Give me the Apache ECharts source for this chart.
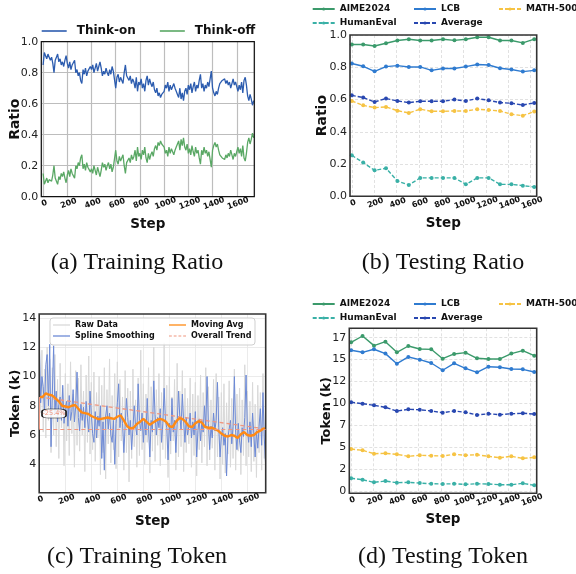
<!DOCTYPE html>
<html><head><meta charset="utf-8">
<script src="https://cdn.jsdelivr.net/npm/echarts@6/dist/echarts.min.js"></script>
<style>html,body{margin:0;padding:0;background:#fff}#c{width:576px;height:574px}</style>
</head><body><div id="c"></div><script>
// ---------- (a) Training Ratio: values every 10 steps ----------
const thinkOn = [
0.85,0.93,0.91,0.89,0.92,0.90,0.88,0.90,0.86,0.80,
0.88,0.90,0.92,0.87,0.89,0.85,0.87,0.84,0.88,0.91,
0.86,0.83,0.87,0.82,0.85,0.84,0.88,0.80,0.82,0.78,
0.80,0.75,0.73,0.82,0.79,0.83,0.78,0.81,0.80,0.84,
0.82,0.85,0.80,0.83,0.86,0.81,0.84,0.87,0.83,0.78,
0.81,0.79,0.83,0.80,0.78,0.82,0.79,0.84,0.81,0.80,
0.70,0.77,0.79,0.74,0.77,0.76,0.73,0.80,0.85,0.78,
0.77,0.75,0.78,0.73,0.76,0.74,0.70,0.77,0.68,0.74,
0.72,0.76,0.70,0.73,0.68,0.75,0.78,0.72,0.76,0.73,
0.71,0.74,0.69,0.67,0.70,0.65,0.67,0.64,0.66,0.65,
0.68,0.72,0.70,0.74,0.68,0.72,0.69,0.71,0.73,0.70,
0.68,0.66,0.64,0.70,0.63,0.67,0.62,0.68,0.70,0.66,
0.72,0.69,0.73,0.67,0.71,0.74,0.68,0.72,0.70,0.75,
0.79,0.70,0.73,0.68,0.72,0.70,0.74,0.71,0.76,0.81,
0.70,0.67,0.65,0.68,0.66,0.70,0.73,0.72,0.75,0.74,
0.76,0.73,0.75,0.72,0.74,0.70,0.73,0.76,0.72,0.74,
0.71,0.68,0.72,0.69,0.74,0.67,0.75,0.77,0.72,0.65,
0.62,0.66,0.63,0.59,0.62];
const thinkOff = [
0.15,0.08,0.10,0.12,0.09,0.11,0.12,0.10,0.14,0.20,
0.12,0.10,0.08,0.13,0.11,0.15,0.13,0.16,0.12,0.09,
0.14,0.17,0.13,0.18,0.15,0.16,0.12,0.20,0.18,0.22,
0.20,0.25,0.27,0.18,0.21,0.17,0.22,0.19,0.20,0.16,
0.18,0.15,0.20,0.17,0.14,0.19,0.16,0.13,0.17,0.22,
0.19,0.21,0.17,0.20,0.22,0.18,0.21,0.16,0.19,0.20,
0.30,0.23,0.21,0.26,0.23,0.24,0.27,0.20,0.15,0.22,
0.23,0.25,0.22,0.27,0.24,0.26,0.30,0.23,0.32,0.26,
0.28,0.24,0.30,0.27,0.32,0.25,0.22,0.28,0.24,0.27,
0.29,0.26,0.31,0.33,0.30,0.35,0.33,0.36,0.34,0.35,
0.32,0.28,0.30,0.26,0.32,0.28,0.31,0.29,0.27,0.30,
0.32,0.34,0.36,0.30,0.37,0.33,0.38,0.32,0.30,0.34,
0.28,0.31,0.27,0.33,0.29,0.26,0.32,0.28,0.30,0.25,
0.21,0.30,0.27,0.32,0.28,0.30,0.26,0.29,0.24,0.19,
0.30,0.33,0.35,0.32,0.34,0.30,0.27,0.28,0.25,0.26,
0.24,0.27,0.25,0.28,0.26,0.30,0.27,0.24,0.28,0.26,
0.29,0.32,0.28,0.31,0.26,0.33,0.25,0.23,0.28,0.35,
0.38,0.34,0.37,0.41,0.38];

// ---------- (c) Training Token: values every 10 steps ----------
const rawToken = [
13.6,7.5,11.8,6.2,10.5,5.8,12.0,7.0,11.2,4.8,
10.6,6.0,11.5,5.2,9.8,4.4,10.9,6.5,9.2,3.9,
10.2,5.6,9.5,4.6,11.0,6.1,8.8,3.8,10.4,5.3,
9.9,4.9,10.8,6.0,9.0,3.5,10.1,5.5,11.4,4.7,
9.6,5.0,10.3,4.2,8.9,5.8,10.0,3.3,9.4,4.8,
10.6,3.0,9.1,5.4,11.2,4.1,8.7,5.0,10.2,3.7,
11.0,4.5,9.8,5.6,8.6,3.6,10.4,4.8,9.2,2.8,
9.0,4.4,10.5,5.2,8.4,3.8,9.9,4.6,11.8,5.0,
9.5,4.0,8.8,5.5,10.6,3.4,9.3,4.9,12.0,4.2,
9.1,5.3,10.2,3.9,8.9,5.0,12.3,4.4,9.4,3.1,
10.0,4.7,8.6,5.6,9.8,3.6,10.9,4.5,9.0,5.2,
10.4,3.5,9.2,4.8,8.5,5.4,9.9,3.8,8.8,4.6,
9.6,3.2,8.7,5.0,10.1,4.1,8.9,5.2,10.6,3.9,
9.3,4.3,8.4,5.1,9.8,3.6,10.2,4.5,8.6,3.0,
8.9,4.0,9.5,3.4,8.2,4.7,9.7,3.8,8.5,4.4,
10.5,3.6,8.8,4.9,9.2,3.3,8.4,4.6,10.8,3.9,
9.0,4.5,8.3,3.5,9.6,4.2,8.1,3.1,9.4,4.8,
8.9,3.6,10.2,4.4,6.8];
const splineToken = [
12.4,8.2,10.0,9.3,7.6,10.8,11.5,8.0,12.2,5.2,
8.8,12.1,7.4,9.0,6.9,8.1,8.6,7.0,9.4,6.8,
7.9,8.3,6.6,8.7,7.0,7.6,9.1,6.9,8.0,10.3,
7.2,6.3,8.1,7.0,7.9,6.5,8.3,7.1,6.2,9.0,
7.4,6.1,5.5,7.6,5.8,7.3,6.6,8.0,4.4,6.9,
3.6,7.3,8.0,6.4,7.5,6.0,5.5,7.0,4.0,6.8,
8.2,9.5,6.5,7.5,6.8,4.8,6.6,8.5,7.2,6.0,
7.0,5.0,6.5,8.0,6.6,6.0,9.5,7.0,6.3,7.5,
5.5,7.1,6.0,8.5,6.4,4.5,7.0,6.2,9.7,7.4,
6.0,7.2,6.5,7.8,5.5,6.8,9.2,7.0,6.5,4.3,
6.8,5.6,8.5,6.2,7.0,4.8,6.7,9.0,7.3,6.4,
8.8,6.9,5.5,7.2,6.0,6.6,7.5,5.8,6.9,6.0,
7.6,4.5,6.3,7.1,5.6,7.0,6.2,8.0,6.5,10.0,
6.8,5.0,6.6,5.8,7.5,6.3,7.0,9.6,6.5,4.5,
5.9,6.5,5.3,6.1,3.2,5.8,6.4,7.0,5.4,6.6,
10.0,6.2,5.0,6.8,5.6,4.8,6.5,5.9,7.2,10.1,
6.4,5.5,6.9,5.2,7.5,6.0,4.5,6.3,5.1,6.6,
7.8,5.3,8.9,5.8,4.0];
const movingAvgSteps = [0,25,50,75,100,125,150,175,200,225,250,275,300,325,350,375,400,425,450,475,
500,525,550,575,600,625,650,675,700,725,750,775,800,825,850,875,900,925,950,975,
1000,1025,1050,1075,1100,1125,1150,1175,1200,1225,1250,1275,1300,1325,1350,1375,1400,1425,1450,1475,
1500,1525,1550,1575,1600,1625,1650,1675,1700,1725,1740];
const movingAvg = [
8.6,8.6,8.85,8.75,8.7,8.5,8.3,8.0,7.95,7.9,
8.0,8.05,7.8,7.55,7.5,7.45,7.3,7.2,7.1,7.1,
7.15,7.2,7.15,7.1,7.25,7.35,7.0,6.6,6.45,6.5,
6.75,6.9,7.1,6.9,6.7,6.85,7.0,7.1,7.05,6.9,
6.6,6.55,6.9,7.15,7.1,6.9,6.6,6.55,6.8,6.95,
6.85,6.55,6.5,6.5,6.4,6.3,6.1,5.95,5.9,6.0,
5.95,5.8,6.05,6.2,6.0,5.95,6.0,6.2,6.3,6.45,6.4];
const trendSteps = [0, 1740];
const trendValues = [8.6, 6.415];
const trendLabel = '-25.4%';

// ---------- (b)/(d) Testing ----------
const testSteps = [0,102,204,306,408,510,612,714,816,918,1020,1122,1224,1326,1428,1530,1632];
const aimeRatio  = [0.941,0.941,0.932,0.949,0.966,0.974,0.966,0.966,0.974,0.967,0.974,0.986,0.986,0.966,0.966,0.951,0.974];
const lcbRatio   = [0.823,0.806,0.775,0.804,0.810,0.802,0.802,0.781,0.792,0.792,0.804,0.817,0.814,0.794,0.786,0.773,0.781];
const mathRatio  = [0.591,0.564,0.550,0.554,0.531,0.517,0.540,0.527,0.527,0.529,0.529,0.540,0.535,0.529,0.509,0.500,0.525];
const humanRatio = [0.254,0.209,0.161,0.174,0.095,0.070,0.114,0.114,0.114,0.114,0.074,0.114,0.114,0.074,0.074,0.066,0.058];
const avgRatio   = [0.626,0.612,0.585,0.606,0.591,0.581,0.589,0.589,0.589,0.600,0.591,0.606,0.595,0.581,0.577,0.566,0.579];
const aimeToken  = [16.97,17.69,16.59,17.04,15.83,16.55,16.21,16.17,15.10,15.64,15.79,15.15,15.07,15.07,15.68,16.02,15.45];
const lcbToken   = [16.06,15.83,16.18,15.68,14.53,15.30,14.99,14.61,13.78,14.57,14.00,13.55,14.19,14.12,13.93,13.89,13.58];
const mathToken  = [4.79,4.65,4.26,4.30,4.19,3.96,4.08,4.03,4.00,4.19,4.08,4.14,3.96,3.80,3.96,3.73,3.84];
const humanToken = [1.45,1.29,0.99,1.14,0.95,0.99,0.91,0.83,0.80,0.83,0.76,0.83,0.80,0.72,0.72,0.88,0.65];
const avgToken   = [10.13,9.97,9.78,9.55,9.13,9.32,9.28,9.13,8.94,9.13,8.98,8.68,8.82,8.71,8.82,8.87,8.79];

const stepTicks = [0,200,400,600,800,1000,1200,1400,1600];
const ratioTicks = [0,0.2,0.4,0.6,0.8,1.0];
const tokenTicksC = [4,6,8,10,12,14];
const tokenTicksD = [0,2.5,5,7.5,10,12.5,15,17.5];

const titles = ['(a) Training Ratio','(b) Testing Ratio','(c) Training Token','(d) Testing Token'];

// ---------- helpers ----------
const trainSteps = thinkOn.map((_, i) => i * 10);
const pairs = (xs, ys) => ys.map((y, i) => [xs[i], y]);
const SANS = 'DejaVu Sans';
const SERIF = 'Liberation Serif';

const gridBoxes = [
  {left:41.3, top:41.7, width:213, height:155, color:'#111', lw:1.2},
  {left:350, top:35, width:186.7, height:161.3, color:'#333', lw:1.6},
  {left:39.2, top:314, width:226.5, height:178.7, color:'#333', lw:1.6},
  {left:349.3, top:328.3, width:187.4, height:165, color:'#333', lw:1.6}
];
const grids = gridBoxes.map(g => ({left:g.left, top:g.top, width:g.width, height:g.height, show:false}));
// plot frames (spines) drawn above the grid lines
const frames = gridBoxes.map(g => ({type:'rect', z:5, silent:true,
  shape:{x:g.left, y:g.top, width:g.width, height:g.height},
  style:{fill:null, stroke:g.color, lineWidth:g.lw}}));

const splitA = {show:true, lineStyle:{color:'#bdbdbd', width:1.2}};
const splitB = {show:true, lineStyle:{color:'#d9d9d9', width:0.8, type:[3,2]}};
const splitC = {show:true, lineStyle:{color:'#e6e6e6', width:0.8}};

// Axis extent endpoints are added as unlabeled ticks so that ECharts' min/max
// overlap check only ever drops these blank labels, never a real tick label.
function xAx(gi, min, max, split, gap) {
  const vals = [min].concat(stepTicks.filter(v => v > min && v < max), [max]);
  return {type:'value', gridIndex:gi, min:min, max:max,
    axisLine:{show:false}, axisTick:{show:false, customValues:vals},
    axisLabel:{customValues:vals, formatter:v => (stepTicks.indexOf(v) >= 0 ? String(v) : ''),
      rotate:20, align:'center', verticalAlign:'top', margin:3,
      hideOverlap:false, showMinLabel:false, showMaxLabel:false,
      fontFamily:SANS, fontWeight:'bold', fontSize:8, color:'#111'},
    splitLine:split,
    name:'Step', nameLocation:'middle', nameGap:gap,
    nameTextStyle:{fontFamily:SANS, fontWeight:'bold', fontSize:13.5, color:'#111'}};
}
function yAx(gi, min, max, ticks, fmt, split, name, gap, nsize) {
  return {type:'value', gridIndex:gi, min:min, max:max,
    axisLine:{show:false}, axisTick:{show:false, customValues:ticks},
    axisLabel:{customValues:ticks, formatter:fmt, margin:3, hideOverlap:false, fontFamily:SANS, fontSize:11, color:'#222'},
    splitLine:split,
    name:name, nameLocation:'middle', nameGap:gap, nameMoveOverlap:false,
    nameTextStyle:{fontFamily:SANS, fontWeight:'bold', fontSize:nsize, color:'#111'}};
}
const f1 = v => Number(v).toFixed(1);
const fi = v => String(Math.floor(v));

const testCols = {AIME2024:'#3b9a6b', LCB:'#2f7bd0', 'MATH-500':'#f6c343', HumanEval:'#39b0a6', Average:'#2847b0'};
function testSeries(gi, name, vals, dashed) {
  const c = testCols[name];
  return {name:name, type:'line', xAxisIndex:gi, yAxisIndex:gi, data:pairs(testSteps, vals),
    symbol:'circle', symbolSize:4, showSymbol:true,
    lineStyle:{color:c, width:1.4, type: dashed ? [4,2] : 'solid'}, itemStyle:{color:c}, z:3};
}

function legendCol(left, top, names, fs, iw, ih, gap) {
  return {orient:'vertical', left:left, top:top, data:names, itemWidth:iw, itemHeight:ih, itemGap:gap,
    padding:0, z:8, selectedMode:false,
    textStyle:{fontFamily:SANS, fontWeight:'bold', fontSize:fs, color:'#111'}};
}
const dashIcon = 'path://M0 0h3v1h-3zM5 0h3v1h-3zM10 0h3v1h-3zM15 0h3v1h-3z';

const option = {
  animation:false,
  backgroundColor:'#fff',
  grid: grids,
  xAxis: [
    xAx(0, -15, 1745, splitA, 21),
    xAx(1, -16, 1654, splitB, 20),
    xAx(2, -1, 1741, splitC, 22),
    xAx(3, -16, 1654, splitB, 19.5)
  ],
  yAxis: [
    yAx(0, 0, 1, ratioTicks, f1, splitA, 'Ratio', 19, 14),
    yAx(1, 0, 1, ratioTicks, f1, splitB, 'Ratio', 21, 14),
    yAx(2, 2.06, 14.27, tokenTicksC, v => String(v), splitC, 'Token (k)', 17.5, 13),
    yAx(3, -0.26, 18.57, tokenTicksD, fi, splitB, 'Token (k)', 16, 13)
  ],
  legend: [
    {orient:'horizontal', left:41.7, top:25, itemWidth:25, itemHeight:1.6, itemGap:24,
      data:[{name:'Think-on', icon:'rect'},{name:'Think-off', icon:'rect'}],
      padding:0, selectedMode:false, textStyle:{fontFamily:SANS, fontWeight:'bold', fontSize:12, color:'#111', padding:[0,0,0,5]}},
    legendCol(311.7, 4.5, ['AIME2024','HumanEval'], 9, 22, 4, 5),
    legendCol(413, 4.5, ['LCB','Average'], 9, 22, 4, 5),
    legendCol(498, 4.5, ['MATH-500'], 9, 22, 4, 5),
    legendCol(311.7, 299.5, ['AIME2024','HumanEval'], 9, 22, 4, 5),
    legendCol(413, 299.5, ['LCB','Average'], 9, 22, 4, 5),
    legendCol(498, 299.5, ['MATH-500'], 9, 22, 4, 5),
    legendCol(53, 321, [{name:'Raw Data', icon:'rect'},{name:'Spline Smoothing', icon:'rect'}], 8, 17, 1.3, 3),
    legendCol(169, 321, [{name:'Moving Avg', icon:'rect'},{name:'Overall Trend', icon:dashIcon}], 8, 17, 1.3, 3)
  ],
  graphic: frames.concat([
    {type:'rect', z:6, shape:{x:50, y:318, width:205, height:27, r:3},
      style:{fill:'rgba(255,255,255,0.85)', stroke:'#cfcfcf', lineWidth:1}},
    {type:'text', x:137, y:263, style:{text:titles[0], fontFamily:SERIF, fontSize:24, fill:'#111', align:'center', verticalAlign:'middle'}},
    {type:'text', x:443, y:263, style:{text:titles[1], fontFamily:SERIF, fontSize:24, fill:'#111', align:'center', verticalAlign:'middle'}},
    {type:'text', x:137, y:557, style:{text:titles[2], fontFamily:SERIF, fontSize:24, fill:'#111', align:'center', verticalAlign:'middle'}},
    {type:'text', x:443, y:557, style:{text:titles[3], fontFamily:SERIF, fontSize:24, fill:'#111', align:'center', verticalAlign:'middle'}}
  ]),
  series: [
    {name:'Think-on', type:'line', xAxisIndex:0, yAxisIndex:0, data:pairs(trainSteps, thinkOn), symbol:'none',
      lineStyle:{color:'#2c5caf', width:1.3}, itemStyle:{color:'#2c5caf'}},
    {name:'Think-off', type:'line', xAxisIndex:0, yAxisIndex:0, data:pairs(trainSteps, thinkOff), symbol:'none',
      lineStyle:{color:'#5aa865', width:1.3}, itemStyle:{color:'#5aa865'}},

    testSeries(1,'AIME2024',aimeRatio,false),
    testSeries(1,'LCB',lcbRatio,false),
    testSeries(1,'MATH-500',mathRatio,true),
    testSeries(1,'HumanEval',humanRatio,true),
    testSeries(1,'Average',avgRatio,true),

    {name:'Raw Data', type:'line', xAxisIndex:2, yAxisIndex:2, data:pairs(trainSteps, rawToken), symbol:'none', z:1,
      lineStyle:{color:'#d9d9d9', width:1}, itemStyle:{color:'#d9d9d9'}},
    {name:'Spline Smoothing', type:'line', xAxisIndex:2, yAxisIndex:2, data:pairs(trainSteps, splineToken), symbol:'none', z:2,
      lineStyle:{color:'#6d8ad6', width:1}, itemStyle:{color:'#6d8ad6'}},
    {name:'Overall Trend', type:'line', xAxisIndex:2, yAxisIndex:2, data:pairs(trendSteps, trendValues), symbol:'none', z:3,
      lineStyle:{color:'#f0967f', width:1.3, type:[4,3]}, itemStyle:{color:'#f0967f'},
      markLine:{symbol:'none', silent:true, label:{show:false}, animation:false,
        lineStyle:{color:'#f0967f', width:1, type:[4,3]},
        data:[
          [{coord:[trendSteps[0], trendValues[1]]},{coord:[trendSteps[1], trendValues[1]]}],
          [{coord:[trendSteps[0], trendValues[1]], lineStyle:{type:'solid'}},{coord:[trendSteps[0], trendValues[0]], lineStyle:{type:'solid'}}]
        ]},
      markPoint:{symbol:'roundRect', symbolSize:[24,9], silent:true, animation:false,
        itemStyle:{color:'rgba(255,255,255,0.85)', borderColor:'#111', borderWidth:1},
        label:{show:true, position:'inside', formatter:trendLabel, fontSize:6.5, color:'#f0967f', fontFamily:SANS},
        data:[{coord:[113, 7.47]}]}},
    {name:'Moving Avg', type:'line', xAxisIndex:2, yAxisIndex:2, data:pairs(movingAvgSteps, movingAvg), symbol:'none', z:4,
      lineStyle:{color:'#ff8a14', width:2.4}, itemStyle:{color:'#ff8a14'}},

    testSeries(3,'AIME2024',aimeToken,false),
    testSeries(3,'LCB',lcbToken,false),
    testSeries(3,'MATH-500',mathToken,true),
    testSeries(3,'HumanEval',humanToken,true),
    testSeries(3,'Average',avgToken,true)
  ]
};
const chart = echarts.init(document.getElementById('c'), null, {renderer:'canvas'});
chart.setOption(option);
</script></body></html>
